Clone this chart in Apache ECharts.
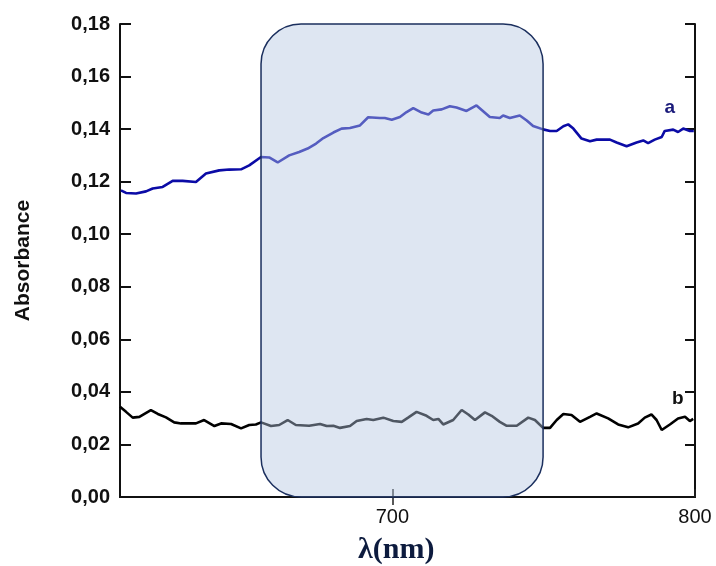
<!DOCTYPE html>
<html>
<head>
<meta charset="utf-8">
<script src="https://cdn.jsdelivr.net/npm/echarts@6/dist/echarts.min.js"></script>
<style>html,body{margin:0;padding:0;background:#fff}#c{width:716px;height:566px}</style>
</head>
<body>
<div id="c"></div>
<script>
// Curve a
const wavelengthA = [610.3,612.0,615.3,618.6,620.8,624.1,627.4,630.7,635.1,638.4,642.8,646.1,650.0,652.7,656.6,659.3,662.1,665.9,669.2,672.0,674.8,677.2,680.5,683.2,686.0,689.3,692.0,695.9,697.5,699.8,702.5,704.7,706.9,709.7,711.9,713.5,716.3,719.0,721.2,724.5,727.8,732.2,735.5,736.6,738.8,742.1,744.4,746.5,749.8,752.1,754.3,756.5,758.1,759.8,762.5,765.3,767.5,771.9,774.1,777.4,780.7,782.9,784.5,786.7,789.0,790.0,792.8,794.4,796.1,798.3,799.6];
const absorbanceA = [0.1167,0.1157,0.1155,0.1163,0.1174,0.1180,0.1203,0.1203,0.1199,0.1231,0.1243,0.1246,0.1247,0.1262,0.1294,0.1292,0.1273,0.1300,0.1313,0.1326,0.1345,0.1366,0.1387,0.1402,0.1404,0.1414,0.1445,0.1442,0.1442,0.1436,0.1446,0.1465,0.1480,0.1463,0.1456,0.1471,0.1475,0.1487,0.1482,0.1469,0.1490,0.1446,0.1442,0.1452,0.1442,0.1452,0.1433,0.1412,0.1399,0.1393,0.1393,0.1411,0.1418,0.1402,0.1364,0.1354,0.1360,0.1360,0.1349,0.1335,0.1349,0.1357,0.1347,0.1360,0.1370,0.1393,0.1398,0.1389,0.1402,0.1393,0.1393];
// Curve b
const wavelengthB = [610.0,612.0,614.2,616.4,620.2,622.5,625.2,627.9,630.2,635.1,637.8,641.2,643.4,646.7,650.0,652.7,654.9,656.6,659.9,662.6,665.4,668.1,672.5,676.1,678.3,680.5,682.7,686.0,688.2,691.5,693.7,697.0,700.3,703.1,705.2,708.0,711.3,713.5,715.2,716.8,720.1,722.9,725.1,727.3,730.6,732.8,735.5,737.8,741.1,744.9,747.1,749.8,752.1,754.3,756.5,759.2,762.0,765.3,767.5,771.3,774.6,777.9,781.2,783.4,785.6,787.3,789.0,791.7,794.4,796.7,798.3,799.4];
const absorbanceB = [0.0343,0.0324,0.0302,0.0305,0.0331,0.0316,0.0303,0.0284,0.0280,0.0280,0.0293,0.0270,0.0280,0.0278,0.0261,0.0274,0.0276,0.0284,0.0270,0.0274,0.0293,0.0274,0.0271,0.0278,0.0270,0.0271,0.0263,0.0270,0.0289,0.0297,0.0293,0.0302,0.0289,0.0286,0.0302,0.0324,0.0309,0.0293,0.0297,0.0276,0.0293,0.0331,0.0314,0.0293,0.0322,0.0309,0.0286,0.0271,0.0271,0.0302,0.0293,0.0263,0.0263,0.0293,0.0316,0.0312,0.0286,0.0305,0.0318,0.0299,0.0276,0.0265,0.0280,0.0302,0.0314,0.0293,0.0255,0.0276,0.0299,0.0305,0.0289,0.0297];
// Axis ticks
const xTickLabels = [700, 800];
const xTopTicks = [700];
const yMin = 0, yMax = 0.18, yStep = 0.02;
const xMin = 610, xMax = 800;
// Highlighted region (nm) and series labels
const highlightRange = [656.6, 749.8];
const labelA = {text: 'a', x: 791.7, y: 0.148};
const labelB = {text: 'b', x: 794.3, y: 0.0373};

const chart = echarts.init(document.getElementById('c'), null, {renderer: 'canvas'});
const axisLine = {show: true, lineStyle: {color: '#111', width: 2}};
const fmtY = v => v.toFixed(2).replace('.', ',');

chart.setOption({
  animation: false,
  backgroundColor: '#fff',
  grid: {left: 120, right: 21, top: 24, bottom: 69, containLabel: false, outerBoundsMode: 'none'},
  title: {
    text: 'λ(nm)', left: 353, top: 530,
    textStyle: {fontFamily: 'Liberation Serif', fontWeight: 'bold', fontSize: 30, color: '#0d1b3e'}
  },
  xAxis: [
    {
      type: 'value', min: xMin, max: xMax, position: 'bottom',
      axisLine: axisLine,
      axisTick: {show: true, inside: true, length: 8, customValues: xTickLabels, lineStyle: {color: '#222', width: 1.5}},
      axisLabel: {customValues: xTickLabels, fontFamily: 'Liberation Sans', fontSize: 20, color: '#111', margin: 10},
      splitLine: {show: false}
    },
    {
      type: 'value', min: xMin, max: xMax, position: 'top',
      axisLine: axisLine,
      axisTick: {show: true, inside: true, length: 8, customValues: xTopTicks, lineStyle: {color: '#222', width: 1.5}},
      axisLabel: {show: false},
      splitLine: {show: false}
    }
  ],
  yAxis: [
    {
      type: 'value', min: yMin, max: yMax, interval: yStep, position: 'left',
      name: 'Absorbance', nameLocation: 'middle', nameGap: 86, nameRotate: 90,
      nameTextStyle: {fontFamily: 'Liberation Sans', fontWeight: 'bold', fontSize: 21, color: '#111'},
      axisLine: axisLine,
      axisTick: {show: true, inside: true, length: 11, lineStyle: {color: '#111', width: 2}},
      axisLabel: {formatter: fmtY, fontFamily: 'Liberation Sans', fontWeight: 'bold', fontSize: 20, color: '#111', margin: 10},
      splitLine: {show: false}
    },
    {
      type: 'value', min: yMin, max: yMax, interval: yStep, position: 'right',
      axisLine: axisLine,
      axisTick: {show: true, inside: true, length: 10, lineStyle: {color: '#111', width: 2}},
      axisLabel: {show: false},
      splitLine: {show: false}
    }
  ],
  series: [
    {
      name: 'a', type: 'line', showSymbol: false, symbol: 'none',
      data: wavelengthA.map((w, i) => [w, absorbanceA[i]]),
      lineStyle: {color: '#0b0ba6', width: 2.6},
      markPoint: {
        symbol: 'circle', symbolSize: 0,
        label: {show: true, formatter: labelA.text, position: 'inside', fontFamily: 'Liberation Sans', fontWeight: 'bold', fontSize: 19, color: '#1a1a7a'},
        data: [{coord: [labelA.x, labelA.y]}]
      }
    },
    {
      name: 'b', type: 'line', showSymbol: false, symbol: 'none',
      data: wavelengthB.map((w, i) => [w, absorbanceB[i]]),
      lineStyle: {color: '#000', width: 2.6},
      markPoint: {
        symbol: 'circle', symbolSize: 0,
        label: {show: true, formatter: labelB.text, position: 'inside', fontFamily: 'Liberation Sans', fontWeight: 'bold', fontSize: 19, color: '#111'},
        data: [{coord: [labelB.x, labelB.y]}]
      }
    }
  ]
});

const p1 = chart.convertToPixel({gridIndex: 0}, [highlightRange[0], yMax]);
const p2 = chart.convertToPixel({gridIndex: 0}, [highlightRange[1], yMin]);
chart.setOption({
  graphic: [{
    type: 'rect', z: 50,
    shape: {x: p1[0], y: p1[1], width: p2[0] - p1[0], height: p2[1] - p1[1], r: 40},
    style: {fill: 'rgba(180,198,226,0.44)', stroke: '#1b2f5e', lineWidth: 1.5}
  }]
});
</script>
</body>
</html>
